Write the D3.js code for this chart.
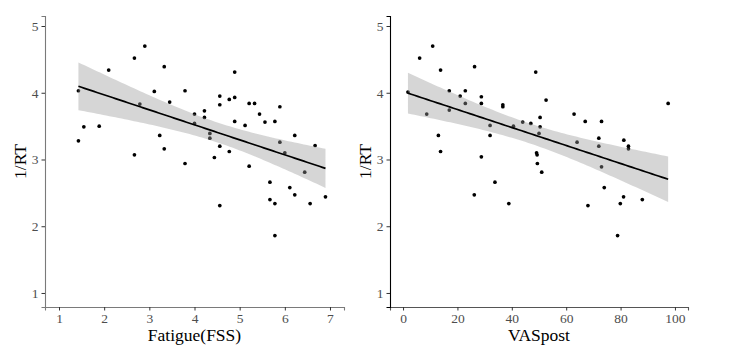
<!DOCTYPE html>
<html>
<head>
<meta charset="utf-8">
<script src="https://cdn.jsdelivr.net/npm/d3@7"></script>
<style>
  body { margin: 0; background: #fff; }
</style>
</head>
<body>
<div id="chart"></div>
<script>
// values
var fssValues = [1.43, 1.43, 1.55, 1.89, 2.10, 2.67, 2.67, 2.79, 2.90, 3.11, 3.23, 3.33, 3.33, 3.45,
  3.79, 3.79, 4.00, 4.00, 4.22, 4.22, 4.34, 4.34, 4.44, 4.56, 4.56, 4.56, 4.77, 4.77, 4.89, 4.89,
  4.89, 5.12, 5.21, 5.21, 5.33, 5.44, 5.56, 5.78, 5.89, 5.89, 6.00, 6.22, 6.44, 6.67, 5.67, 6.11,
  6.22, 5.67, 5.78, 6.56, 6.90, 4.56, 5.78];
var fssRT = [4.03, 3.28, 3.49, 3.50, 4.34, 4.52, 3.07, 3.83, 4.70, 4.02, 3.36, 4.39, 3.16, 3.86,
  4.03, 2.94, 3.68, 3.54, 3.73, 3.63, 3.39, 3.32, 3.03, 3.95, 3.82, 3.20, 3.90, 3.12, 4.31, 3.93,
  3.57, 3.51, 3.84, 2.90, 3.84, 3.68, 3.56, 3.57, 3.79, 3.26, 3.10, 3.36, 2.81, 3.21, 2.66, 2.58,
  2.47, 2.40, 2.34, 2.34, 2.44, 2.31, 1.86];

var vasValues = [1.8, 6.1, 8.7, 10.9, 13.0, 13.8, 13.8, 17.0, 17.0, 21.0, 22.9, 22.9, 26.3, 28.8,
  28.8, 28.8, 32.0, 32.0, 36.7, 36.7, 40.6, 44.0, 47.0, 48.8, 49.1, 49.3, 49.4, 50.4, 50.4, 50.0,
  51.0, 52.6, 62.9, 64.0, 67.0, 72.0, 72.0, 73.0, 73.0, 81.2, 82.9, 82.9, 97.5, 26.2, 33.8, 38.9,
  68.0, 74.0, 79.9, 81.1, 88.0, 78.9];
var vasRT = [4.01, 4.52, 3.68, 4.70, 3.36, 4.34, 3.12, 4.03, 3.74, 3.95, 4.03, 3.84, 4.39, 3.94,
  3.84, 3.04, 3.51, 3.36, 3.82, 3.79, 3.50, 3.56, 3.54, 4.31, 3.10, 3.07, 2.94, 3.63, 3.49, 3.39,
  2.81, 3.89, 3.68, 3.26, 3.57, 3.32, 3.20, 3.57, 2.89, 3.29, 3.20, 3.16, 3.84, 2.47, 2.66, 2.34,
  2.31, 2.58, 2.34, 2.44, 2.40, 1.86];

var fssTicks = [1, 2, 3, 4, 5, 6, 7];
var vasTicks = [0, 20, 40, 60, 80, 100];
var rtTicks = [1, 2, 3, 4, 5];

var serif = "Liberation Serif";

var svg = d3.select("#chart").append("svg")
    .attr("width", 731)
    .attr("height", 353);

drawPanel({
  left: 45, right: 344, top: 16, bottom: 307,
  xDomain: [0.69, 7.31], xTicks: fssTicks, xTitle: "Fatigue(FSS)",
  xs: fssValues, ys: fssRT, yAxisColor: "#7a7a7a", xAxisColor: "#7a7a7a"
});

drawPanel({
  left: 390, right: 688, top: 16, bottom: 307,
  xDomain: [-4.8, 104.8], xTicks: vasTicks, xTitle: "VASpost",
  xs: vasValues, ys: vasRT, yAxisColor: "#000", xAxisColor: "#555"
});

// ordinary least squares fit with a 95% band, like geom_smooth(method = "lm")
function linearFit(xs, ys) {
  var n = xs.length;
  var mx = d3.mean(xs), my = d3.mean(ys);
  var sxx = 0, sxy = 0;
  for (var i=0; i<n; i++) {
    sxx += (xs[i] - mx) * (xs[i] - mx);
    sxy += (xs[i] - mx) * (ys[i] - my);
  }
  var slope = sxy / sxx;
  var intercept = my - slope * mx;
  var sse = 0;
  for (var i=0; i<n; i++) {
    var r = ys[i] - (intercept + slope * xs[i]);
    sse += r * r;
  }
  var s = Math.sqrt(sse / (n - 2));
  var t = 2.008;
  var lo = d3.min(xs), hi = d3.max(xs);
  var pts = [];
  for (var k=0; k<=80; k++) {
    var x = lo + (hi - lo) * k / 80;
    var fit = intercept + slope * x;
    var se = s * Math.sqrt(1 / n + (x - mx) * (x - mx) / sxx);
    pts.push({ x: x, fit: fit, lower: fit - t * se, upper: fit + t * se });
  }
  return pts;
}

function drawPanel(p) {
  var x = d3.scaleLinear().domain(p.xDomain).range([p.left, p.right]);
  var y = d3.scaleLinear().domain([0.79, 5.15]).range([p.bottom, p.top]);

  var g = svg.append("g");

  // points
  g.selectAll("circle")
      .data(p.xs)
      .enter().append("circle")
      .attr("cx", function(d) { return x(d); })
      .attr("cy", function(d, i) { return y(p.ys[i]); })
      .attr("r", 1.85)
      .attr("fill", "#000");

  var fit = linearFit(p.xs, p.ys);

  // confidence band drawn on top, semi transparent
  g.append("path")
      .datum(fit)
      .attr("fill", "#999999")
      .attr("fill-opacity", 0.4)
      .attr("d", d3.area()
        .x(function(d) { return x(d.x); })
        .y0(function(d) { return y(d.lower); })
        .y1(function(d) { return y(d.upper); }));

  g.append("path")
      .datum(fit)
      .attr("fill", "none")
      .attr("stroke", "#000")
      .attr("stroke-width", 1.7)
      .attr("d", d3.line()
        .x(function(d) { return x(d.x); })
        .y(function(d) { return y(d.fit); }));

  // axes
  var xAxis = g.append("g")
      .attr("transform", "translate(0," + p.bottom + ")")
      .call(d3.axisBottom(x).tickValues(p.xTicks).tickFormat(d3.format("d"))
        .tickSizeOuter(0).tickSize(3.5).tickPadding(3));
  xAxis.select(".domain").attr("stroke", p.xAxisColor).attr("stroke-width", 1.1);

  var yAxis = g.append("g")
      .attr("transform", "translate(" + p.left + ",0)")
      .call(d3.axisLeft(y).tickValues(rtTicks).tickFormat(d3.format("d"))
        .tickSizeOuter(0).tickSize(3.5).tickPadding(3));
  yAxis.select(".domain").attr("stroke", p.yAxisColor).attr("stroke-width", 1.1);

  g.selectAll(".tick line").attr("stroke", "#333");
  g.selectAll(".tick text")
      .attr("fill", "#4d4d4d")
      .attr("font-family", serif)
      .attr("font-size", 13.5);

  g.append("text")
      .attr("x", (p.left + p.right) / 2)
      .attr("y", 341)
      .attr("text-anchor", "middle")
      .attr("font-family", serif)
      .attr("font-size", 17.5)
      .attr("fill", "#000")
      .text(p.xTitle);

  g.append("text")
      .attr("transform", "translate(" + (p.left - 19) + "," + ((p.top + p.bottom) / 2) + ") rotate(-90)")
      .attr("text-anchor", "middle")
      .attr("font-family", serif)
      .attr("font-size", 17.5)
      .attr("fill", "#000")
      .text("1/RT");
}
</script>
</body>
</html>
